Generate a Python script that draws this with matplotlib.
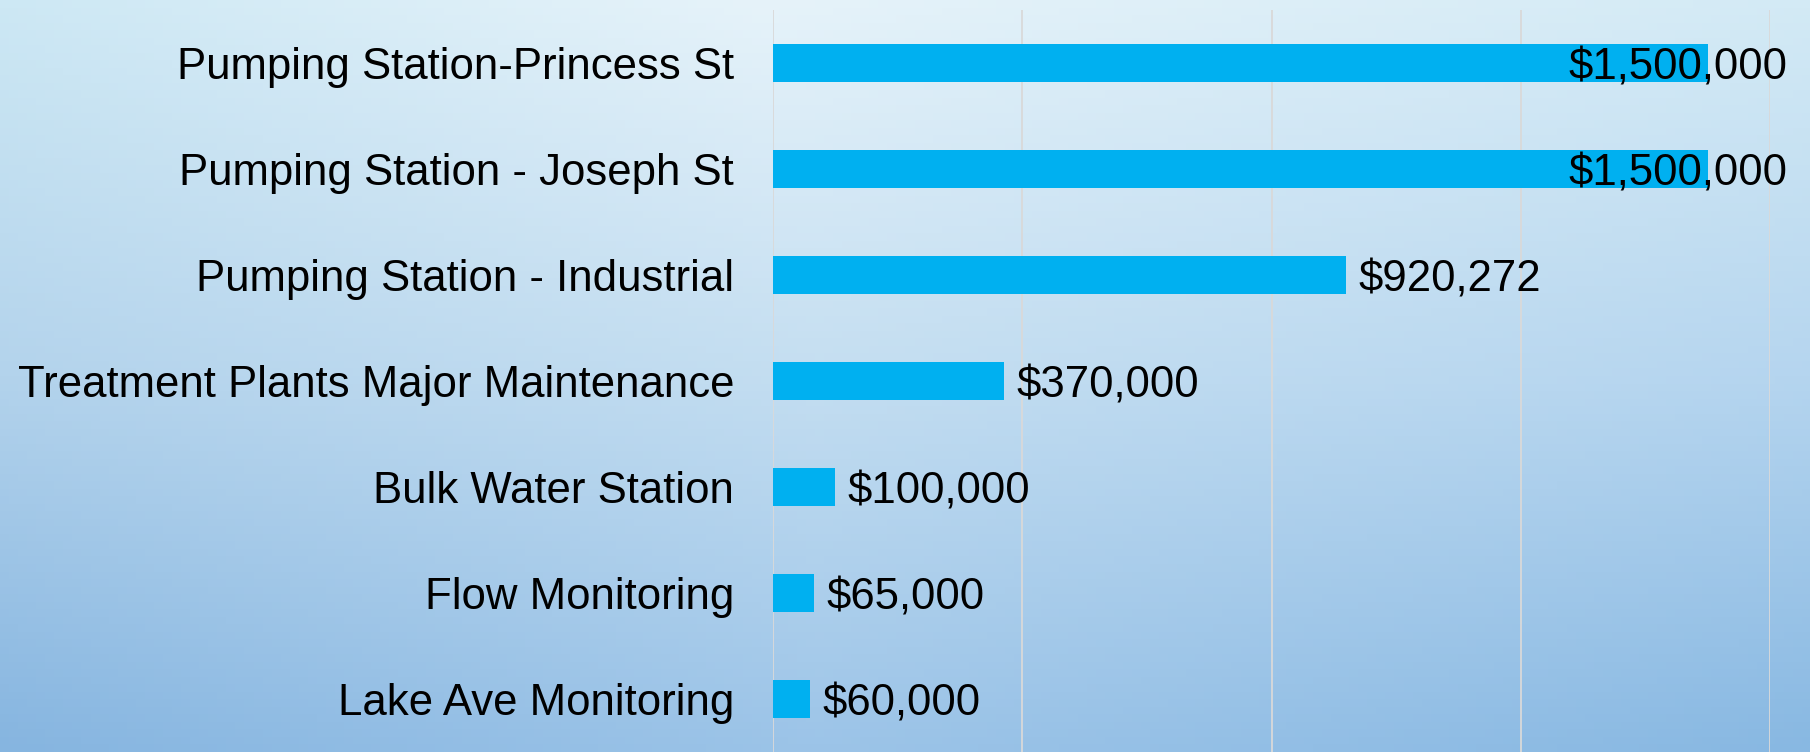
import matplotlib
matplotlib.use("Agg")
import matplotlib.pyplot as plt
import numpy as np
from matplotlib.colors import to_rgb

categories = [
    "Pumping Station-Princess St",
    "Pumping Station - Joseph St",
    "Pumping Station - Industrial",
    "Treatment Plants Major Maintenance",
    "Bulk Water Station",
    "Flow Monitoring",
    "Lake Ave Monitoring",
]
values = [1500000, 1500000, 920272, 370000, 100000, 65000, 60000]
grid_ticks = [0, 400000, 800000, 1200000, 1600000]

W, H, DPI = 1810, 752, 100
plt.rcParams['font.family'] = ['Liberation Sans', 'DejaVu Sans']

fig = plt.figure(figsize=(W / DPI, H / DPI), dpi=DPI)

# background gradient
bg = fig.add_axes([0, 0, 1, 1], zorder=0)
bg.set_axis_off()
nx, ny = 200, 100
xs = np.linspace(0, 1, nx)
ys = np.linspace(0, 1, ny)
top_pts = [(0.0, "#cde8f4"), (0.42, "#e6f3fa"), (1.0, "#d3eaf5")]
mid_pts = [(0.0, "#b3d3ec"), (0.45, "#c4def1"), (1.0, "#b5d5ef")]
bot_pts = [(0.0, "#86b5e0"), (0.45, "#9cc4e8"), (1.0, "#88b8e2")]

def row(pts):
    px = [p[0] for p in pts]
    cols = np.array([to_rgb(p[1]) for p in pts])
    return np.stack([np.interp(xs, px, cols[:, c]) for c in range(3)], axis=-1)

rt, rm, rb = row(top_pts), row(mid_pts), row(bot_pts)
img = np.zeros((ny, nx, 3))
for j, yv in enumerate(ys):
    if yv <= 0.5:
        t = yv / 0.5
        img[j] = rt * (1 - t) + rm * t
    else:
        t = (yv - 0.5) / 0.5
        img[j] = rm * (1 - t) + rb * t
bg.imshow(img, aspect='auto', extent=[0, 1, 0, 1], origin='upper')
bg.set_xlim(0, 1)
bg.set_ylim(0, 1)

left = 773 / W
right = 1770 / W
top = 1 - 10 / H
ax = fig.add_axes([left, 0, right - left, top], zorder=1)
ax.patch.set_alpha(0)

y = np.arange(len(categories))
ax.barh(y, values, height=0.36, color="#00b0f0", zorder=2)
ax.set_xlim(grid_ticks[0], grid_ticks[-1])
ax.set_ylim(len(categories) - 0.5, -0.5)
ax.set_xticks(grid_ticks)
ax.set_xticklabels([])
ax.tick_params(axis='x', length=0)
ax.grid(axis='x', color="#d9d9d9", linewidth=1.3, zorder=1)
ax.set_axisbelow(True)
ax.set_yticks(y)
ax.set_yticklabels(categories, fontsize=31.5, color="black")
ax.tick_params(axis='y', length=0, pad=28)
for s in ax.spines.values():
    s.set_visible(False)

anns = []
for i, v in enumerate(values):
    a = ax.annotate(f"${v:,.0f}", xy=(v, i), xytext=(9, 0),
                    textcoords='offset points', va='center_baseline', ha='left',
                    fontsize=31.5, color='black', zorder=3,
                    annotation_clip=False)
    anns.append(a)

fig.canvas.draw()
r = fig.canvas.get_renderer()
limit = W - 23
for a in anns:
    bb = a.get_window_extent(r)
    if bb.x1 > limit:
        shift_px = bb.x1 - limit
        ox, oy = a.xyann
        a.xyann = (ox - shift_px * 72 / DPI, oy)

fig.savefig("out.png", dpi=DPI)
